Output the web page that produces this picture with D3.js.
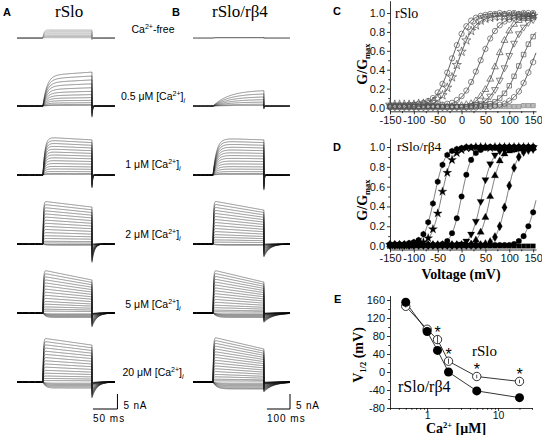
<!DOCTYPE html>
<html><head><meta charset="utf-8">
<script src="https://cdn.jsdelivr.net/npm/d3@7/dist/d3.min.js"></script>
<style>html,body{margin:0;padding:0;background:#fff;} svg{display:block;}</style>
</head><body>
<svg id="fig" width="542" height="435" xmlns="http://www.w3.org/2000/svg"></svg>
<script>
// ===================== DATA =====================
// Row labels ([Ca2+]i)
const rowConc = ["free", "0.5", "1", "2", "5", "20"];

// Panels A/B: current families, amplitude of each sweep at end of the pulse (nA)
const ampsA_free = [2.7, 2.3, 1.9, 1.5, 1.1, 0.8, 0.5, 0.3, 0.1];
const ampsA_05 = [11.3, 10.0, 8.7, 7.4, 6.1, 4.9, 3.8, 2.8, 1.9, 1.1, 0.5, 0.2];
const ampsA_1 = [11.7, 10.8, 9.9, 9.0, 8.1, 7.2, 6.3, 5.4, 4.5, 3.6, 2.7, 1.9, 1.1, 0.5, 0.2];
const ampsA_2 = [12.3, 11.4, 10.5, 9.6, 8.7, 7.8, 6.9, 6.0, 5.1, 4.2, 3.3, 2.4, 1.6, 0.8, 0.3, -0.2, -0.4];
const ampsA_5 = [11.0, 10.2, 9.4, 8.6, 7.8, 7.0, 6.2, 5.4, 4.6, 3.8, 3.0, 2.3, 1.6, 1.0, 0.5, -0.3, -0.6, -0.9, -1.2, -1.5];
const ampsA_20 = [12.3, 11.4, 10.5, 9.6, 8.7, 7.8, 6.9, 6.0, 5.1, 4.2, 3.3, 2.5, 1.7, 1.0, 0.4, -0.4, -0.8, -1.2, -1.6, -2.0];

const ampsB_free = [0.15, 0.08];
const ampsB_05 = [5.1, 4.0, 3.0, 2.1, 1.3, 0.6, 0.2];
const ampsB_1 = [11.7, 10.8, 9.9, 9.0, 8.1, 7.2, 6.3, 5.4, 4.5, 3.6, 2.7, 1.9, 1.1, 0.5, 0.2];
const ampsB_2 = [11.3, 10.5, 9.7, 8.9, 8.1, 7.3, 6.5, 5.7, 4.9, 4.1, 3.3, 2.5, 1.8, 1.1, 0.5, -0.2, -0.4];
const ampsB_5 = [10.3, 9.6, 8.9, 8.2, 7.5, 6.8, 6.1, 5.4, 4.7, 4.0, 3.3, 2.6, 1.9, 1.3, 0.7, 0.3, -0.3, -0.6, -0.9, -1.2, -1.5];
const ampsB_20 = [11.0, 10.3, 9.6, 8.9, 8.2, 7.5, 6.8, 6.1, 5.4, 4.7, 4.0, 3.3, 2.6, 1.9, 1.3, 0.7, 0.3, -0.4, -0.8, -1.2, -1.6, -2.0, -2.3];

// kinetics per row (ms / fractions)
const actTauA = [2, 8, 4, 1, 1, 1];
const driftA = [0, -0.1, 0.08, 0.16, 0.30, 0.19];
const tailFracA = [0.2, 0.33, 0.37, 0.5, 0.42, 0.43];
const tailTauA = [1, 1.5, 1.5, 5, 10, 10];
const actTauB = [5, 70, 15, 2, 2, 2];
const driftB = [0, 0, 0.05, 0.27, 0.39, 0.36];
const tailFracB = [0.2, 0.2, 0.43, 0.38, 0.3, 0.3];
const tailTauB = [2, 2, 2, 25, 40, 40];
const pulseA = [53, 153], sweepA = 200;   // ms
const pulseB = [87, 307], sweepB = 420;   // ms

// Panels C/D: G/Gmax vs voltage
const voltages = [-150,-140,-130,-120,-110,-100,-90,-80,-70,-60,-50,-40,-30,-20,-10,0,10,20,30,40,50,60,70,80,90,100,110,120,130,140,150];
const gvC1 = [0.02,0.02,0.02,0.02,0.03,0.03,0.04,0.05,0.07,0.10,0.16,0.25,0.37,0.52,0.66,0.78,0.86,0.92,0.95,0.97,0.98,0.99,0.99,1.00,0.99,1.00,1.00,0.99,1.00,1.00,1.00];
const gvC2 = [0.03,0.03,0.03,0.03,0.03,0.03,0.04,0.04,0.05,0.06,0.09,0.13,0.21,0.32,0.45,0.59,0.71,0.81,0.87,0.92,0.94,0.95,0.96,0.96,0.97,0.96,0.97,0.97,0.97,0.96,0.97];
const gvC3 = [0.01,0.01,0.01,0.01,0.01,0.01,0.01,0.02,0.02,0.02,0.02,0.03,0.04,0.05,0.08,0.12,0.18,0.27,0.38,0.50,0.62,0.73,0.81,0.87,0.91,0.93,0.95,0.96,0.96,0.97,0.97];
const gvC4 = [0.01,0.01,0.01,0.01,0.01,0.01,0.01,0.01,0.01,0.01,0.01,0.01,0.01,0.01,0.01,0.02,0.03,0.04,0.07,0.12,0.19,0.30,0.43,0.58,0.71,0.81,0.88,0.92,0.94,0.96,0.97];
const gvC5 = [0.01,0.01,0.01,0.01,0.01,0.01,0.01,0.01,0.01,0.01,0.01,0.01,0.01,0.01,0.01,0.01,0.01,0.02,0.03,0.04,0.07,0.12,0.19,0.29,0.42,0.55,0.68,0.78,0.85,0.90,0.93];
const gvC6 = [0.01,0.01,0.01,0.01,0.01,0.01,0.01,0.01,0.01,0.01,0.01,0.01,0.01,0.01,0.01,0.01,0.01,0.01,0.01,0.02,0.03,0.04,0.06,0.10,0.15,0.23,0.33,0.44,0.56,0.67,0.75];
const gvC7 = [0.00,0.00,0.00,0.00,0.00,0.00,0.00,0.00,0.00,0.00,0.00,0.00,0.00,0.00,0.00,0.00,0.00,0.00,0.00,0.01,0.01,0.01,0.02,0.03,0.04,0.07,0.11,0.17,0.26,0.37,0.48];
const gvC0 = [0.01,0.01,0.01,0.01,0.01,0.01,0.01,0.01,0.01,0.01,0.01,0.01,0.01,0.01,0.01,0.01,0.01,0.01,0.01,0.01,0.01,0.01,0.01,0.01,0.01,0.01,0.01,0.01,0.02,0.02,0.02];
const fitC_v50 = [-21, -7, 39, 74, 95, 123, 150];
const fitC_k = [17, 17, 19, 17, 18, 20, 19];
const fitC_gmax = [1.0, 0.97, 0.97, 0.98, 0.97, 0.95, 1.0];

const gvD1 = [0.02,0.02,0.02,0.02,0.03,0.04,0.06,0.12,0.24,0.43,0.65,0.82,0.92,0.96,0.98,0.99,1.00,1.00,1.00,1.00,1.00,1.00,1.00,1.00,1.00,1.00,1.00,1.00,1.00,1.00,1.00];
const gvD2 = [0.01,0.01,0.01,0.01,0.01,0.02,0.03,0.04,0.08,0.17,0.33,0.55,0.74,0.87,0.94,0.97,0.99,0.99,1.00,1.00,1.00,0.99,1.00,1.00,1.00,1.00,1.00,1.00,1.00,1.00,1.00];
const gvD3 = [0.01,0.01,0.01,0.01,0.01,0.01,0.01,0.01,0.01,0.01,0.01,0.02,0.05,0.13,0.28,0.50,0.72,0.87,0.94,0.97,0.99,1.00,0.99,1.00,1.00,1.00,1.00,1.00,1.00,1.00,1.00];
const gvD4 = [0.01,0.01,0.01,0.01,0.01,0.01,0.01,0.01,0.01,0.01,0.01,0.01,0.01,0.01,0.01,0.02,0.05,0.12,0.25,0.45,0.67,0.83,0.92,0.96,0.97,0.98,0.98,0.99,0.98,0.99,0.99];
const gvD5 = [0.01,0.01,0.01,0.01,0.01,0.01,0.01,0.01,0.01,0.01,0.01,0.01,0.01,0.01,0.01,0.01,0.01,0.02,0.06,0.14,0.29,0.50,0.71,0.86,0.93,0.96,0.97,0.98,0.98,0.98,0.99];
const gvD6 = [0.01,0.01,0.01,0.01,0.01,0.01,0.01,0.01,0.01,0.01,0.01,0.01,0.01,0.01,0.01,0.01,0.01,0.01,0.01,0.01,0.02,0.04,0.09,0.20,0.39,0.61,0.79,0.90,0.95,0.97,0.98];
const gvD7 = [0.01,0.01,0.01,0.01,0.01,0.01,0.01,0.01,0.01,0.01,0.01,0.01,0.01,0.01,0.01,0.01,0.01,0.01,0.01,0.01,0.01,0.01,0.01,0.01,0.01,0.01,0.02,0.05,0.10,0.20,0.34];
const gvD0 = [0.00,0.00,0.00,0.00,0.00,0.00,0.00,0.00,0.00,0.00,0.00,0.00,0.00,0.00,0.00,0.00,0.00,0.00,0.00,0.00,0.00,0.00,0.00,0.00,0.00,0.00,0.00,0.00,0.00,0.00,0.00];
const fitD_v50 = [-57, -42, 0, 42, 60, 95, 158];
const fitD_k = [11, 11, 10.5, 11, 11, 11, 13];
const fitD_gmax = [1.0, 1.0, 1.0, 0.98, 0.98, 0.99, 1.0];

const gvTicks = [-150, -100, -50, 0, 50, 100, 150];
const gTicks = [0, 0.2, 0.4, 0.6, 0.8, 1.0];

// Panel E: V1/2 vs [Ca2+]
const caE = [0.5, 1, 1.4, 2, 5, 20];
const vhalf_rSlo = [146, 95, 72, 24, -10, -21];
const vhalf_rSlo_err = [3, 4, 9, 6, 4, 4];
const vhalf_b4 = [155, 90, 48, 0, -42, -57];
const signif = [false, false, true, true, true, true];
const vTicksE = [-80, -40, 0, 40, 80, 120, 160];
const caTicksE = [1, 10];

// ===================== DRAWING =====================
const SANS = "Arial, 'Liberation Sans', Helvetica, sans-serif";
const SERIF = "'Times New Roman', 'Liberation Serif', Times, serif";
const svg = d3.select("#fig");
svg.append("rect").attr("width", 542).attr("height", 435).attr("fill", "#fff");

function txt(x, y, s, opt = {}) {
  return svg.append("text").attr("x", x).attr("y", y)
    .attr("font-family", opt.family || SANS).attr("font-size", opt.size || 11)
    .attr("font-weight", opt.weight || "normal").attr("text-anchor", opt.anchor || "start")
    .attr("fill", "#000").text(s);
}

// panel letters
[["A", 3, 16], ["B", 172, 16], ["C", 333, 15], ["D", 333, 151], ["E", 334, 303]]
  .forEach(d => txt(d[1], d[2], d[0], { weight: "bold", size: 11 }));
txt(55, 17, "rSlo", { family: SERIF, size: 17 });
txt(212, 17, "rSlo/rβ4", { family: SERIF, size: 17 });

// ---- current families ----
const rowBase = [38, 106, 175, 244, 313, 382];
const tA = d3.scaleLinear().domain([0, sweepA]).range([17, 115]);
const tB = d3.scaleLinear().domain([0, sweepB]).range([193, 290]);

function current(A, t, on, off, p) {
  if (t < on) return 0;
  const P = off - on;
  if (t < off) {
    const s = t - on;
    const tau = A > 0 ? p.tau : p.tin;
    const act = (1 - Math.exp(-s / tau)) / (1 - Math.exp(-P / tau));
    const dr = A > 0 ? 1 + p.drift * (1 - s / P) : 1;
    return A * act * dr;
  }
  return -p.tf * Math.abs(A) * Math.exp(-(t - off) / p.tt);
}
function drawFamily(amps, tScale, pulse, T, p, base, color) {
  const y = d3.scaleLinear().domain([0, 5]).range([base, base - 15]);
  const times = d3.range(0, T, T / 800).concat([pulse[0], pulse[1] - 1e-6, pulse[1], T]).sort((a, b) => a - b);
  const line = d3.line().x(d => tScale(d[0])).y(d => y(d[1]));
  const g = svg.append("g");
  amps.forEach(A => {
    g.append("path").attr("d", line(times.map(t => [t, current(A, t, pulse[0], pulse[1], p)])))
      .attr("fill", "none").attr("stroke", color).attr("stroke-width", 0.5);
  });
}
const ampsA = [ampsA_free, ampsA_05, ampsA_1, ampsA_2, ampsA_5, ampsA_20];
const ampsB = [ampsB_free, ampsB_05, ampsB_1, ampsB_2, ampsB_5, ampsB_20];
ampsA.forEach((amps, i) => drawFamily(amps, tA, pulseA, sweepA,
  { tau: actTauA[i], tin: 5, drift: driftA[i], tf: tailFracA[i], tt: tailTauA[i] }, rowBase[i], i === 0 ? "#8a8a8a" : "#222"));
ampsB.forEach((amps, i) => drawFamily(amps, tB, pulseB, sweepB,
  { tau: actTauB[i], tin: 15, drift: driftB[i], tf: tailFracB[i], tt: tailTauB[i] }, rowBase[i], "#222"));

// concentration labels
const labelY = [33, 100, 168, 238, 308, 376];
rowConc.forEach((c, i) => {
  const t = svg.append("text").attr("x", 153).attr("y", labelY[i]).attr("text-anchor", "middle")
    .attr("font-family", SANS).attr("font-size", 10.5).attr("fill", "#000");
  if (c === "free") {
    t.append("tspan").text("Ca");
    t.append("tspan").attr("dy", -4).attr("font-size", 7).text("2+");
    t.append("tspan").attr("dy", 4).text("-free");
  } else {
    t.append("tspan").text(c + " μM [Ca");
    t.append("tspan").attr("dy", -4).attr("font-size", 7).text("2+");
    t.append("tspan").attr("dy", 4).text("]");
    t.append("tspan").attr("dy", 3).attr("font-size", 7).attr("font-style", "italic").text("i");
  }
});

// scale bars
const yBar = d3.scaleLinear().domain([0, 5]).range([409, 394]);
function scaleBar(tScale, t0, dur, labelT) {
  const x0 = tScale(t0), x1 = tScale(t0 + dur);
  svg.append("path").attr("d", `M${x0},${yBar(0)}H${x1}V${yBar(5)}`).attr("fill", "none")
    .attr("stroke", "#000").attr("stroke-width", 1);
  txt(x1 + 6, yBar(0), "5 nA", { size: 10 }).attr("letter-spacing", 0.8);
  txt(x0, 422, labelT, { size: 10 }).attr("letter-spacing", 1);
}
scaleBar(tA, 155, 50, "50 ms");
scaleBar(tB, 320, 100, "100 ms");

// ---- G-V panels ----
const xGV = d3.scaleLinear().domain([-150, 156]).range([390, 536]);
const yC = d3.scaleLinear().domain([-0.04, 1.13]).range([111.3, 0.7]);
const yD = d3.scaleLinear().domain([-0.035, 1.09]).range([249.5, 138.1]);

function styleAxis(g, fs) {
  g.select(".domain").attr("stroke", "#000").attr("stroke-width", 0.8);
  g.selectAll(".tick line").attr("stroke", "#000").attr("stroke-width", 0.8);
  g.selectAll("text").attr("font-family", SANS).attr("font-size", fs || 11).attr("fill", "#111");
}
function gvAxes(y, minorY) {
  const xa = svg.append("g").attr("transform", `translate(0,${y.range()[0]})`)
    .call(d3.axisBottom(xGV).tickValues(gvTicks).tickFormat(d => String(d)).tickSize(3).tickPadding(2).tickSizeOuter(0));
  styleAxis(xa);
  svg.append("g").attr("transform", `translate(0,${y.range()[0]})`)
    .call(d3.axisBottom(xGV).tickValues([-125, -75, -25, 25, 75, 125]).tickFormat("").tickSize(1.8).tickSizeOuter(0))
    .call(g => { g.select(".domain").remove(); g.selectAll("line").attr("stroke", "#000").attr("stroke-width", 0.8); });
  const ya = svg.append("g").attr("transform", `translate(${xGV.range()[0]},0)`)
    .call(d3.axisLeft(y).tickValues(gTicks).tickFormat(d3.format(".1f")).tickSize(3).tickPadding(2).tickSizeOuter(0));
  styleAxis(ya);
  svg.append("g").attr("transform", `translate(${xGV.range()[0]},0)`)
    .call(d3.axisLeft(y).tickValues(minorY).tickFormat("").tickSize(1.8).tickSizeOuter(0))
    .call(g => { g.select(".domain").remove(); g.selectAll("line").attr("stroke", "#000").attr("stroke-width", 0.8); });
}
gvAxes(yC, [0.1, 0.3, 0.5, 0.7, 0.9]);
gvAxes(yD, [0.1, 0.3, 0.5, 0.7, 0.9]);

const symHex = { draw(ctx, size) { const r = Math.sqrt(size / (1.5 * Math.sqrt(3)));
  for (let i = 0; i < 6; i++) { const a = Math.PI / 3 * i + Math.PI / 6;
    i ? ctx.lineTo(r * Math.cos(a), r * Math.sin(a)) : ctx.moveTo(r * Math.cos(a), r * Math.sin(a)); }
  ctx.closePath(); } };
const shapes = { circle: [d3.symbolCircle, 0], square: [d3.symbolSquare, 0], tri: [d3.symbolTriangle, 0],
  tridown: [d3.symbolTriangle, 180], star: [d3.symbolStar, 0], diamond: [d3.symbolDiamond, 0], hex: [symHex, 0] };

function boltz(v, v50, k, gmax) { return gmax / (1 + Math.exp((v50 - v) / k)); }
function drawGV(y, series, shapesList, fits, style) {
  const clip = svg.append("g");
  const vFine = d3.range(-150, 156.01, 1);
  fits.v50.forEach((v50, i) => {
    clip.append("path").attr("d", d3.line().x(v => xGV(v)).y(v => y(boltz(v, v50, fits.k[i], fits.gmax[i])))(vFine))
      .attr("fill", "none").attr("stroke", style.line).attr("stroke-width", 0.7);
  });
  series.forEach((vals, si) => {
    const sh = shapes[shapesList[si]];
    const sym = d3.symbol().type(sh[0]).size(style.size[si]);
    const g = svg.append("g");
    vals.forEach((g_, j) => {
      g.append("path").attr("d", sym())
        .attr("transform", `translate(${xGV(voltages[j])},${y(g_)}) rotate(${sh[1]})`)
        .attr("fill", style.fill[si]).attr("stroke", style.stroke[si]).attr("stroke-width", style.sw);
    });
  });
}
drawGV(yC, [gvC0, gvC7, gvC6, gvC5, gvC4, gvC3, gvC2, gvC1],
  ["square", "hex", "square", "tridown", "tri", "circle", "star", "circle"],
  { v50: fitC_v50, k: fitC_k, gmax: fitC_gmax },
  { line: "#111", sw: 0.7, size: [18, 22, 20, 20, 20, 22, 26, 22],
    fill: ["#bbb", "none", "none", "none", "none", "none", "none", "none"],
    stroke: ["#888", "#555", "#555", "#555", "#555", "#555", "#555", "#555"] });
drawGV(yD, [gvD0, gvD7, gvD6, gvD5, gvD4, gvD3, gvD2, gvD1],
  ["square", "circle", "diamond", "tri", "tridown", "circle", "star", "hex"],
  { v50: fitD_v50, k: fitD_k, gmax: fitD_gmax },
  { line: "#444", sw: 0.3, size: [20, 24, 24, 22, 22, 24, 24, 24],
    fill: ["#000", "#000", "#000", "#000", "#000", "#000", "#000", "#000"],
    stroke: ["#000", "#000", "#000", "#000", "#000", "#000", "#000", "#000"] });

txt(395, 18, "rSlo", { family: SERIF, size: 14 });
txt(397, 151, "rSlo/rβ4", { family: SERIF, size: 13.5 });

function gLabel(cx, cy) {
  const t = svg.append("text").attr("transform", `translate(${cx},${cy}) rotate(-90)`).attr("text-anchor", "middle")
    .attr("font-family", SERIF).attr("font-weight", "bold").attr("font-size", 14).attr("fill", "#000");
  t.append("tspan").text("G/G");
  t.append("tspan").attr("dy", 3).attr("font-size", 8.5).text("max");
}
gLabel(367, 64);
gLabel(367, 200);
txt(461, 279, "Voltage (mV)", { family: SERIF, size: 14, weight: "bold", anchor: "middle" });

// ---- panel E ----
const xE = d3.scaleLog().domain([0.3, 30]).range([390, 532]);
const yE = d3.scaleLinear().domain([-80, 170]).range([408, 295.5]);
const exa = svg.append("g").attr("transform", `translate(0,${yE.range()[0]})`)
  .call(d3.axisBottom(xE).tickValues(caTicksE).tickFormat(d => String(d)).tickSize(3).tickPadding(1).tickSizeOuter(0));
styleAxis(exa, 10.5);
svg.append("g").attr("transform", `translate(0,${yE.range()[0]})`)
  .call(d3.axisBottom(xE).tickValues([0.3, 0.4, 0.5, 0.6, 0.7, 0.8, 0.9, 2, 3, 4, 5, 6, 7, 8, 9, 20, 30]).tickFormat("").tickSize(1.8).tickSizeOuter(0))
  .call(g => { g.select(".domain").remove(); g.selectAll("line").attr("stroke", "#000").attr("stroke-width", 0.8); });
const eya = svg.append("g").attr("transform", `translate(${xE.range()[0]},0)`)
  .call(d3.axisLeft(yE).tickValues(vTicksE).tickFormat(d => String(d)).tickSize(3).tickPadding(2).tickSizeOuter(0));
styleAxis(eya);
svg.append("g").attr("transform", `translate(${xE.range()[0]},0)`)
  .call(d3.axisLeft(yE).tickValues([-60, -20, 20, 60, 100, 140]).tickFormat("").tickSize(1.8).tickSizeOuter(0))
  .call(g => { g.select(".domain").remove(); g.selectAll("line").attr("stroke", "#000").attr("stroke-width", 0.8); });

const lineE = d3.line().x(d => xE(d[0])).y(d => yE(d[1]));
svg.append("path").attr("d", lineE(caE.map((c, i) => [c, vhalf_rSlo[i]]))).attr("fill", "none").attr("stroke", "#000").attr("stroke-width", 0.8);
svg.append("path").attr("d", lineE(caE.map((c, i) => [c, vhalf_b4[i]]))).attr("fill", "none").attr("stroke", "#000").attr("stroke-width", 0.8);
caE.forEach((c, i) => {
  svg.append("circle").attr("cx", xE(c)).attr("cy", yE(vhalf_rSlo[i])).attr("r", 4.2)
    .attr("fill", "#fff").attr("stroke", "#000").attr("stroke-width", 0.8);
  svg.append("line").attr("x1", xE(c)).attr("x2", xE(c))
    .attr("y1", yE(vhalf_rSlo[i] - vhalf_rSlo_err[i])).attr("y2", yE(vhalf_rSlo[i] + vhalf_rSlo_err[i]))
    .attr("stroke", "#000").attr("stroke-width", 0.7);
});
caE.forEach((c, i) => {
  svg.append("circle").attr("cx", xE(c)).attr("cy", yE(vhalf_b4[i])).attr("r", 4.5).attr("fill", "#000");
});
caE.forEach((c, i) => {
  if (signif[i]) txt(xE(c), yE(vhalf_rSlo[i]) - 1.5, "*", { size: 16, anchor: "middle" });
});
txt(472, 356, "rSlo", { family: SERIF, size: 15 });
txt(398, 392, "rSlo/rβ4", { family: SERIF, size: 16 });
{
  const t = svg.append("text").attr("transform", "translate(363,355) rotate(-90)").attr("text-anchor", "middle")
    .attr("font-family", SERIF).attr("font-weight", "bold").attr("font-size", 14).attr("fill", "#000");
  t.append("tspan").text("V");
  t.append("tspan").attr("dy", 3).attr("font-size", 8.5).text("1/2");
  t.append("tspan").attr("dy", -3).text(" (mV)");
}
{
  const t = svg.append("text").attr("x", 456).attr("y", 433).attr("text-anchor", "middle")
    .attr("font-family", SERIF).attr("font-weight", "bold").attr("font-size", 14).attr("fill", "#000");
  t.append("tspan").text("Ca");
  t.append("tspan").attr("dy", -5).attr("font-size", 8.5).text("2+");
  t.append("tspan").attr("dy", 5).text(" [μM]");
}
</script>
</body></html>
